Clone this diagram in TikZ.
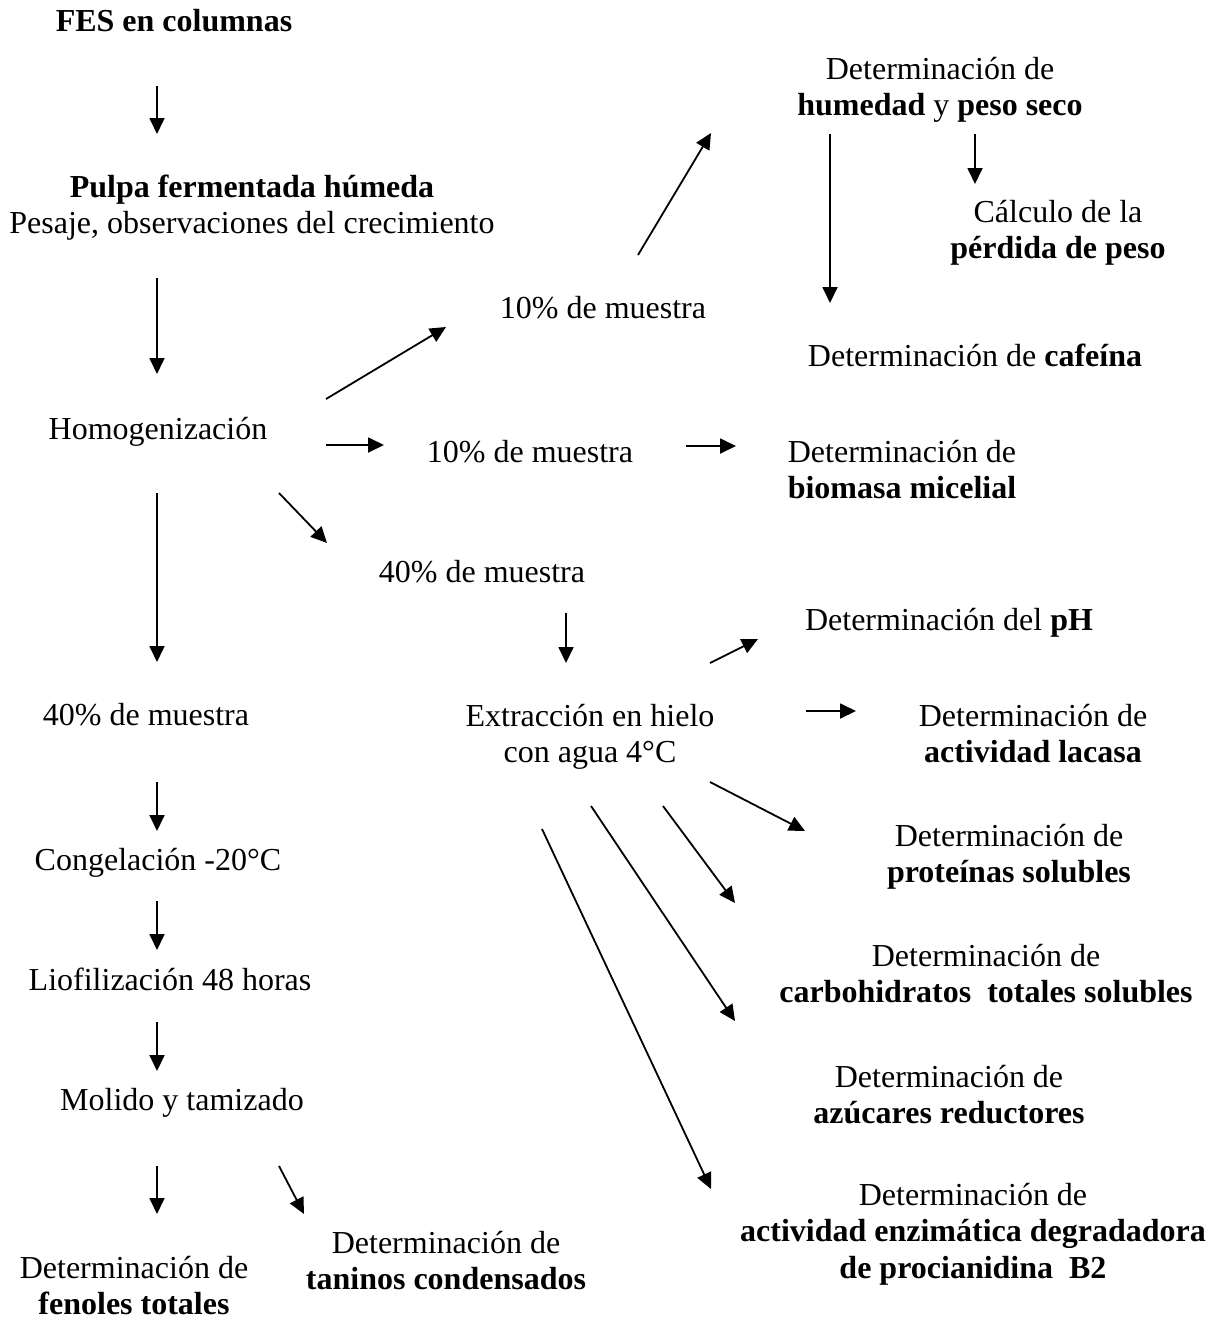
\documentclass[tikz,border=0pt]{standalone}
\usepackage{fontspec}
\setmainfont{Liberation Serif}
\usetikzlibrary{arrows.meta}
\begin{document}
\begin{tikzpicture}[x=1pt,y=-1pt,
  lbl/.style={anchor=base,align=center,inner sep=0pt,font=\fontsize{32}{36.6}\selectfont},
  flow/.style={-{Triangle[length=16pt,width=15pt]},line width=1.8pt}]
\useasboundingbox[fill=white] (0,0) rectangle (1225,1320);
% ---- text nodes (base anchor = baseline of the last line)
\node[lbl] (fes)   at (174,31.5)   {\textbf{FES en columnas}};
\node[lbl] (pulpa) at (252,233.6)  {\textbf{Pulpa fermentada húmeda}\\Pesaje, observaciones del crecimiento};
\node[lbl] (homog) at (158,439)    {Homogenización};
\node[lbl] (m10a)  at (603,318)    {10\% de muestra};
\node[lbl] (m10b)  at (530,462)    {10\% de muestra};
\node[lbl] (m40r)  at (482,582)    {40\% de muestra};
\node[lbl] (hum)   at (940,115.6)  {Determinación de\\\textbf{humedad} y \textbf{peso seco}};
\node[lbl] (perd)  at (1058,258.6) {Cálculo de la\\\textbf{pérdida de peso}};
\node[lbl] (caf)   at (975,366)    {Determinación de \textbf{cafeína}};
\node[lbl] (bio)   at (902,498.6)  {Determinación de\\\textbf{biomasa micelial}};
\node[lbl] (ph)    at (949,630)    {Determinación del \textbf{pH}};
\node[lbl] (ext)   at (590,762.6)  {Extracción en hielo\\con agua 4°C};
\node[lbl] (lac)   at (1033,762.6) {Determinación de\\\textbf{actividad lacasa}};
\node[lbl] (prot)  at (1009,882.6) {Determinación de\\\textbf{proteínas solubles}};
\node[lbl] (carb)  at (986,1002.6) {Determinación de\\\textbf{carbohidratos\ \ totales solubles}};
\node[lbl] (azu)   at (949,1123.6) {Determinación de\\\textbf{azúcares reductores}};
\node[lbl] (enz)   at (973,1278.2) {Determinación de\\\textbf{actividad enzimática degradadora}\\\textbf{de procianidina\ \ B2}};
\node[lbl] (m40l)  at (146,725)    {40\% de muestra};
\node[lbl] (cong)  at (158,870)    {Congelación -20°C};
\node[lbl] (lio)   at (170,990)    {Liofilización 48 horas};
\node[lbl] (mol)   at (182,1110)   {Molido y tamizado};
\node[lbl] (fen)   at (134,1314.6) {Determinación de\\\textbf{fenoles totales}};
\node[lbl] (tan)   at (446,1289.6) {Determinación de\\\textbf{taninos condensados}};
% ---- arrow end points
\coordinate (a1s) at (157,86);   \coordinate (a1e) at (157,134);
\coordinate (a2s) at (157,278);  \coordinate (a2e) at (157,374);
\coordinate (a3s) at (326,399);  \coordinate (a3e) at (446,327);
\coordinate (a4s) at (326,445);  \coordinate (a4e) at (384,445);
\coordinate (a5s) at (279,493);  \coordinate (a5e) at (327,543);
\coordinate (a6s) at (157,493);  \coordinate (a6e) at (157,662);
\coordinate (a7s) at (638,255);  \coordinate (a7e) at (711,133);
\coordinate (a8s) at (686,446);  \coordinate (a8e) at (736,446);
\coordinate (a9s) at (830,134);  \coordinate (a9e) at (830,303);
\coordinate (a10s) at (975,134); \coordinate (a10e) at (975,184);
\coordinate (a11s) at (566,613); \coordinate (a11e) at (566,663);
\coordinate (a12s) at (710,663); \coordinate (a12e) at (758,639);
\coordinate (a13s) at (806,711); \coordinate (a13e) at (856,711);
\coordinate (a14s) at (710,782); \coordinate (a14e) at (805,831);
\coordinate (a15s) at (663,806); \coordinate (a15e) at (735,903);
\coordinate (a16s) at (591,806); \coordinate (a16e) at (735,1021);
\coordinate (a17s) at (542,829); \coordinate (a17e) at (711,1189);
\coordinate (a18s) at (157,782); \coordinate (a18e) at (157,831);
\coordinate (a19s) at (157,901); \coordinate (a19e) at (157,950);
\coordinate (a20s) at (157,1022);\coordinate (a20e) at (157,1071);
\coordinate (a21s) at (157,1166);\coordinate (a21e) at (157,1214);
\coordinate (a22s) at (279,1166);\coordinate (a22e) at (304,1214);
% ---- arrows
\foreach \i in {1,...,22} { \draw[flow] (a\i s) -- (a\i e); }
\end{tikzpicture}
\end{document}
